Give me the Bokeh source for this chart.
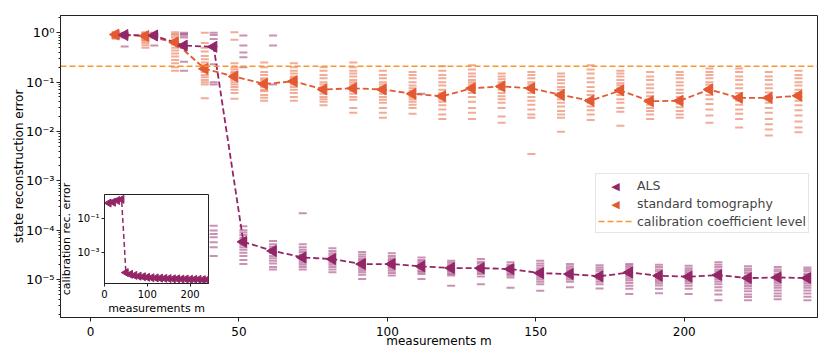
import math
from bokeh.plotting import figure
from bokeh.models import (ColumnDataSource, FixedTicker, CustomJSTickFormatter, Legend,
                          LegendItem, Range1d, Column, Label)
from bokeh.transform import dodge
from bokeh.embed import file_html
from bokeh.resources import INLINE

# ---------------- data ----------------
m_values = [10, 20, 30, 40, 50, 60, 70, 80, 90, 100, 110, 120,
            130, 140, 150, 160, 170, 180, 190, 200, 210, 220, 230, 240]

als_mean = [0.9, 0.88, 0.55, 0.52, 5.8e-5, 3.8e-5, 2.8e-5, 2.6e-5, 2.06e-5, 2.06e-5, 1.85e-5, 1.71e-5,
            1.7e-5, 1.63e-5, 1.35e-5, 1.29e-5, 1.16e-5, 1.39e-5, 1.19e-5, 1.14e-5, 1.23e-5, 1.07e-5, 1.1e-5, 1.07e-5]

tomo_mean = [0.92, 0.86, 0.64, 0.186, 0.13, 0.092, 0.104, 0.071, 0.075, 0.071, 0.058, 0.052,
             0.075, 0.082, 0.075, 0.055, 0.042, 0.068, 0.041, 0.042, 0.071, 0.048, 0.048, 0.053]

calib_mean = [0.85, 0.95, 1.2, 1.4, 7e-5, 5.5e-5, 4.8e-5, 4.3e-5, 4e-5, 3.7e-5, 3.5e-5, 3.4e-5,
              3.3e-5, 3.2e-5, 3.1e-5, 3.0e-5, 3.0e-5, 2.9e-5, 2.9e-5, 2.8e-5, 2.8e-5, 2.8e-5, 2.7e-5, 2.7e-5]

calibration_level = 0.21

tomo_samples = [
    [1.05, 1.0, 0.97, 0.95, 0.92, 0.9, 0.88, 0.86, 0.84, 0.82, 0.8, 0.78, 0.76],
    [1.02, 0.98, 0.95, 0.92, 0.9, 0.87, 0.84, 0.8, 0.76, 0.72, 0.68, 0.62, 0.56, 0.5],
    [1.02, 0.95, 0.88, 0.8, 0.72, 0.65, 0.58, 0.5, 0.44, 0.38, 0.33, 0.28, 0.24, 0.2, 0.17],
    [1.0, 0.62, 0.5, 0.42, 0.34, 0.29, 0.25, 0.22, 0.2, 0.18, 0.16, 0.14, 0.125, 0.11, 0.1, 0.09, 0.047],
    [1.02, 0.72, 0.24, 0.2, 0.18, 0.16, 0.15, 0.14, 0.13, 0.12, 0.11, 0.1, 0.09, 0.08, 0.07, 0.06, 0.046],
    [0.25, 0.2, 0.16, 0.14, 0.12, 0.11, 0.1, 0.09, 0.085, 0.08, 0.07, 0.065, 0.055, 0.048, 0.042],
    [0.24, 0.2, 0.17, 0.15, 0.13, 0.12, 0.11, 0.1, 0.09, 0.08, 0.07, 0.06, 0.05, 0.042],
    [0.2, 0.17, 0.14, 0.12, 0.1, 0.09, 0.08, 0.072, 0.065, 0.058, 0.05, 0.045, 0.04, 0.034],
    [0.25, 0.2, 0.17, 0.15, 0.13, 0.11, 0.1, 0.09, 0.08, 0.072, 0.065, 0.058, 0.05, 0.044, 0.03, 0.024],
    [0.17, 0.14, 0.12, 0.1, 0.09, 0.08, 0.072, 0.065, 0.058, 0.05, 0.044, 0.038, 0.03, 0.024, 0.019],
    [0.16, 0.14, 0.12, 0.1, 0.085, 0.075, 0.066, 0.058, 0.05, 0.045, 0.04, 0.035, 0.03, 0.023],
    [0.21, 0.17, 0.14, 0.12, 0.1, 0.085, 0.07, 0.06, 0.052, 0.045, 0.04, 0.034, 0.028, 0.022, 0.018],
    [0.22, 0.18, 0.15, 0.13, 0.11, 0.1, 0.09, 0.08, 0.07, 0.06, 0.05, 0.04, 0.03, 0.024, 0.018],
    [0.15, 0.13, 0.115, 0.1, 0.09, 0.08, 0.07, 0.06, 0.052, 0.045, 0.038, 0.03, 0.02, 0.015],
    [0.16, 0.14, 0.12, 0.1, 0.09, 0.08, 0.07, 0.06, 0.05, 0.042, 0.035, 0.028, 0.022, 0.019, 0.0035],
    [0.15, 0.13, 0.11, 0.095, 0.08, 0.07, 0.06, 0.052, 0.045, 0.038, 0.032, 0.026, 0.022, 0.019, 0.0099],
    [0.22, 0.18, 0.15, 0.12, 0.1, 0.08, 0.065, 0.055, 0.045, 0.038, 0.032, 0.027, 0.022, 0.017],
    [0.17, 0.15, 0.13, 0.11, 0.095, 0.085, 0.075, 0.065, 0.055, 0.045, 0.038, 0.03, 0.025, 0.013],
    [0.16, 0.13, 0.11, 0.09, 0.075, 0.062, 0.052, 0.045, 0.04, 0.035, 0.03, 0.026, 0.022, 0.018],
    [0.16, 0.14, 0.12, 0.1, 0.085, 0.07, 0.06, 0.05, 0.043, 0.037, 0.031, 0.026, 0.022, 0.019],
    [0.19, 0.16, 0.14, 0.12, 0.1, 0.088, 0.075, 0.065, 0.055, 0.045, 0.036, 0.028, 0.021, 0.015],
    [0.19, 0.16, 0.13, 0.11, 0.09, 0.075, 0.06, 0.05, 0.042, 0.035, 0.028, 0.023, 0.018, 0.012],
    [0.16, 0.13, 0.11, 0.09, 0.075, 0.062, 0.052, 0.045, 0.038, 0.03, 0.024, 0.018, 0.014, 0.011, 0.0083],
    [0.17, 0.14, 0.12, 0.1, 0.085, 0.07, 0.06, 0.05, 0.042, 0.034, 0.027, 0.021, 0.016, 0.012, 0.0097],
]

als_samples = [
    [1.0, 0.97, 0.93, 0.9, 0.87, 0.84, 0.8, 0.53],
    [1.0, 0.96, 0.92, 0.88, 0.84, 0.8, 0.55],
    [1.0, 0.95, 0.88, 0.8, 0.53, 0.5, 0.26, 0.17],
    [1.0, 0.9, 0.75, 0.53, 0.23, 0.1, 0.09, 1.23e-4, 9.8e-5, 8.4e-5, 7.2e-5, 5.7e-5, 4.5e-5, 3e-5],
    [0.88, 0.55, 0.4, 0.32, 0.2, 1.2e-4, 1e-4, 9e-5, 8e-5, 7e-5, 6.5e-5, 6e-5, 5.5e-5, 5e-5, 4.5e-5,
     4e-5, 3.5e-5, 3e-5, 2.5e-5, 2.06e-5],
    [0.88, 0.55, 0.09, 6e-5, 5.2e-5, 4.6e-5, 4.2e-5, 3.8e-5, 3.4e-5, 3e-5, 2.7e-5, 2.4e-5, 2.1e-5, 1.8e-5, 1.6e-5],
    [2.2e-4, 5.2e-5, 4.5e-5, 4e-5, 3.6e-5, 3.2e-5, 2.9e-5, 2.6e-5, 2.4e-5, 2.2e-5, 2e-5, 1.8e-5, 1.6e-5],
    [4.3e-5, 3.8e-5, 3.4e-5, 3.1e-5, 2.8e-5, 2.6e-5, 2.4e-5, 2.2e-5, 2e-5, 1.8e-5, 1.6e-5, 1.4e-5],
    [3.6e-5, 3.2e-5, 2.9e-5, 2.6e-5, 2.4e-5, 2.2e-5, 2e-5, 1.85e-5, 1.7e-5, 1.55e-5, 1.4e-5, 1.25e-5, 1.03e-5],
    [3.4e-5, 3e-5, 2.7e-5, 2.5e-5, 2.3e-5, 2.1e-5, 1.95e-5, 1.8e-5, 1.65e-5, 1.5e-5, 1.35e-5, 1.2e-5],
    [0.058, 2.8e-5, 2.5e-5, 2.3e-5, 2.1e-5, 1.95e-5, 1.8e-5, 1.65e-5, 1.5e-5, 1.4e-5, 1.3e-5, 1.03e-5],
    [2.4e-5, 2.2e-5, 2e-5, 1.85e-5, 1.7e-5, 1.6e-5, 1.5e-5, 1.4e-5, 1.3e-5, 1.2e-5, 7.5e-6],
    [2.6e-5, 2.3e-5, 2.1e-5, 1.9e-5, 1.75e-5, 1.6e-5, 1.5e-5, 1.4e-5, 1.3e-5, 1.15e-5, 8e-6],
    [2.25e-5, 2e-5, 1.85e-5, 1.7e-5, 1.6e-5, 1.5e-5, 1.4e-5, 1.3e-5, 1.2e-5, 1.1e-5, 6.8e-6],
    [2.4e-5, 2.1e-5, 1.9e-5, 1.7e-5, 1.55e-5, 1.4e-5, 1.3e-5, 1.2e-5, 1.1e-5, 1e-5, 9e-6, 8e-6, 5.9e-6],
    [2.06e-5, 1.85e-5, 1.7e-5, 1.55e-5, 1.4e-5, 1.3e-5, 1.2e-5, 1.1e-5, 1e-5, 9e-6, 7e-6],
    [1.95e-5, 1.75e-5, 1.6e-5, 1.45e-5, 1.3e-5, 1.2e-5, 1.1e-5, 1e-5, 9e-6, 8e-6, 6.6e-6],
    [2.06e-5, 1.9e-5, 1.75e-5, 1.6e-5, 1.45e-5, 1.35e-5, 1.25e-5, 1.15e-5, 1.05e-5, 9.5e-6, 8.5e-6, 7.5e-6, 6.5e-6, 5.1e-6],
    [2e-5, 1.8e-5, 1.6e-5, 1.45e-5, 1.3e-5, 1.2e-5, 1.1e-5, 1e-5, 9.2e-6, 8.4e-6, 7.6e-6, 6.5e-6, 5.3e-6],
    [1.9e-5, 1.7e-5, 1.55e-5, 1.4e-5, 1.28e-5, 1.18e-5, 1.08e-5, 1e-5, 9.2e-6, 8.4e-6, 7.5e-6, 6.5e-6, 5.1e-6],
    [2.25e-5, 2e-5, 1.8e-5, 1.6e-5, 1.45e-5, 1.3e-5, 1.2e-5, 1.1e-5, 1e-5, 9e-6, 8e-6, 7e-6, 6e-6, 5e-6, 3.8e-6],
    [1.85e-5, 1.65e-5, 1.5e-5, 1.35e-5, 1.2e-5, 1.1e-5, 1e-5, 9e-6, 8.2e-6, 7.4e-6, 6.6e-6, 5.8e-6, 5e-6, 4.4e-6, 3.8e-6],
    [1.8e-5, 1.6e-5, 1.45e-5, 1.3e-5, 1.2e-5, 1.1e-5, 1e-5, 9.2e-6, 8.4e-6, 7.6e-6, 6.8e-6, 6e-6, 5.2e-6, 4.6e-6, 4e-6],
    [1.75e-5, 1.6e-5, 1.45e-5, 1.3e-5, 1.2e-5, 1.1e-5, 1e-5, 9.2e-6, 8.4e-6, 7.6e-6, 6.8e-6, 6e-6, 5.2e-6, 4.5e-6, 3.8e-6],
]

x_ticks = [0, 50, 100, 150, 200]
y_ticks = [1e-5, 1e-4, 1e-3, 1e-2, 1e-1, 1.0]
inset_x_ticks = [0, 100, 200]
inset_y_ticks = [1e-3, 1e-1]

# ---------------- style ----------------
ALS_C = "#932667"
TOMO_C = "#e35932"
CAL_C = "#f7972e"
FONT = "DejaVu Sans"
AX_C = "#222222"


def flatten(samples):
    xs, ys = [], []
    for m, vals in zip(m_values, samples):
        xs += [m] * len(vals)
        ys += list(vals)
    return ColumnDataSource(dict(m=xs, err=ys))


sup_code = """
const sup = {"-":"\u207b","0":"\u2070","1":"\u00b9","2":"\u00b2","3":"\u00b3","4":"\u2074",
             "5":"\u2075","6":"\u2076","7":"\u2077","8":"\u2078","9":"\u2079"};
const e = Math.round(Math.log10(tick));
return "10" + String(e).split("").map(c => sup[c]).join("");
"""

minor_log = [k * 10.0 ** d for d in range(-6, 1) for k in range(2, 10)]


def style_axes(fig, tick_size, label_size):
    for ax in fig.axis:
        ax.major_label_text_font = FONT
        ax.major_label_text_font_size = tick_size
        ax.major_label_text_color = "#000000"
        ax.axis_label_text_font = FONT
        ax.axis_label_text_font_size = label_size
        ax.axis_label_text_font_style = "normal"
        ax.axis_label_text_color = "#000000"
        ax.axis_line_color = AX_C
        ax.major_tick_line_color = AX_C
        ax.minor_tick_line_color = AX_C
        ax.major_tick_in = 0
        ax.minor_tick_in = 0
    fig.xgrid.visible = False
    fig.ygrid.visible = False
    fig.outline_line_color = AX_C
    fig.outline_line_alpha = 1.0
    fig.background_fill_color = "white"


x_lo, x_hi = -10.1, 244.9

p = figure(frame_width=757, frame_height=302, y_axis_type="log",
           x_range=Range1d(x_lo, x_hi), y_range=Range1d(1.7e-6, 2.24),
           output_backend="svg", toolbar_location=None,
           min_border_left=58, min_border_right=15, min_border_top=15, min_border_bottom=36)
p.border_fill_color = "white"

tomo_pts = flatten(tomo_samples)
als_pts = flatten(als_samples)
means = ColumnDataSource(dict(m=m_values, als=als_mean, tomo=tomo_mean))

x_tomo = dodge("m", -1.5, range=p.x_range)
x_als = dodge("m", 1.5, range=p.x_range)

p.scatter(x=x_tomo, y="err", source=tomo_pts, marker="dash", size=8,
          line_color=TOMO_C, line_width=2, line_alpha=0.5)
p.scatter(x=x_als, y="err", source=als_pts, marker="dash", size=8,
          line_color=ALS_C, line_width=2, line_alpha=0.5)

p.line(x=x_tomo, y="tomo", source=means, line_color=TOMO_C, line_width=1.8, line_dash="6 3")
p.line(x=x_als, y="als", source=means, line_color=ALS_C, line_width=1.8, line_dash="6 3")
p.scatter(x=x_tomo, y="tomo", source=means, marker="triangle", angle=math.pi / 2,
          size=11, fill_color=TOMO_C, line_color=TOMO_C)
p.scatter(x=x_als, y="als", source=means, marker="triangle", angle=math.pi / 2,
          size=11, fill_color=ALS_C, line_color=ALS_C)

r_cal = p.line(x=[x_lo, x_hi], y=[calibration_level, calibration_level],
               line_color=CAL_C, line_width=1.5, line_dash="6 3")

# transparent stand-ins so that the legend reserves the marker slots
r_als_leg = p.scatter(x=x_als, y="als", source=means, marker="triangle",
                      fill_alpha=0, line_alpha=0)
r_tomo_leg = p.scatter(x=x_tomo, y="tomo", source=means, marker="triangle",
                       fill_alpha=0, line_alpha=0)

p.xaxis.ticker = FixedTicker(ticks=x_ticks, minor_ticks=[])
p.yaxis.ticker = FixedTicker(ticks=y_ticks, minor_ticks=minor_log)
p.yaxis.formatter = CustomJSTickFormatter(code=sup_code)
p.xaxis.axis_label = "measurements m"
p.yaxis.axis_label = "state reconstruction error"
style_axes(p, "12px", "12px")
p.yaxis.major_label_text_font_size = "13px"
for ax in p.axis:
    ax.major_tick_out = 4
    ax.minor_tick_out = 2
    ax.major_label_standoff = 2
p.xaxis.major_label_standoff = 5
p.xaxis.axis_label_standoff = -5
p.yaxis.axis_label_standoff = -3

leg_x, leg_y = 535, 84
legend = Legend(items=[
    LegendItem(label="ALS", renderers=[r_als_leg]),
    LegendItem(label="standard tomography", renderers=[r_tomo_leg]),
    LegendItem(label="calibration coefficient level", renderers=[r_cal]),
], location=(leg_x, leg_y))
legend.label_text_font = FONT
legend.label_text_font_size = "12.5px"
legend.label_height = 18
legend.glyph_height = 18
legend.glyph_width = 36
legend.label_standoff = 3
legend.spacing = 0
legend.padding = 2
legend.margin = 0
legend.border_line_color = "#cccccc"
legend.border_line_width = 1
legend.background_fill_color = "white"
legend.background_fill_alpha = 0
p.add_layout(legend)

# left-pointing legend markers (legend glyphs ignore marker angle)
row_h = 18
leg_top = leg_y + 2 * 2 + 3 * row_h
for i, col in enumerate([ALS_C, TOMO_C]):
    p.add_layout(Label(x=leg_x + 2 + 18, y=leg_top - 2 - row_h / 2 - i * row_h,
                       x_units="screen", y_units="screen", text="\u25c0",
                       text_color=col, text_alpha=1.0, text_font=FONT, text_font_size="11px",
                       text_align="center", text_baseline="middle", level="overlay"))

# ---------------- inset ----------------
inset = figure(frame_width=104, frame_height=89, y_axis_type="log",
               x_range=Range1d(0, 243), y_range=Range1d(1.6e-5, 2.7),
               output_backend="svg", toolbar_location=None,
               min_border_left=60, min_border_right=6, min_border_top=22, min_border_bottom=34)
inset.border_fill_color = None
inset.border_fill_alpha = 0
calib = ColumnDataSource(dict(m=m_values, err=calib_mean))
inset.line(x="m", y="err", source=calib, line_color=ALS_C, line_width=1.5, line_dash="5 3")
inset.scatter(x="m", y="err", source=calib, marker="triangle", angle=math.pi / 2,
              size=8, fill_color=ALS_C, line_color=ALS_C)
inset.xaxis.ticker = FixedTicker(ticks=inset_x_ticks, minor_ticks=[])
inset.yaxis.ticker = FixedTicker(ticks=inset_y_ticks, minor_ticks=[])
inset.yaxis.formatter = CustomJSTickFormatter(code=sup_code)
inset.xaxis.axis_label = "measurements m"
inset.yaxis.axis_label = "calibration rec. error"
style_axes(inset, "10px", "11px")
for ax in inset.axis:
    ax.major_tick_out = 3
    ax.major_label_standoff = 3
inset.yaxis.major_label_standoff = 2
inset.xaxis.axis_label_standoff = 1
inset.yaxis.axis_label_standoff = 1
inset.styles = {"position": "absolute", "left": "44px", "top": "172px", "z-index": "5"}

root = Column(children=[p, inset], styles={"position": "relative"})

open("out.html", "w").write(file_html(root, INLINE))
